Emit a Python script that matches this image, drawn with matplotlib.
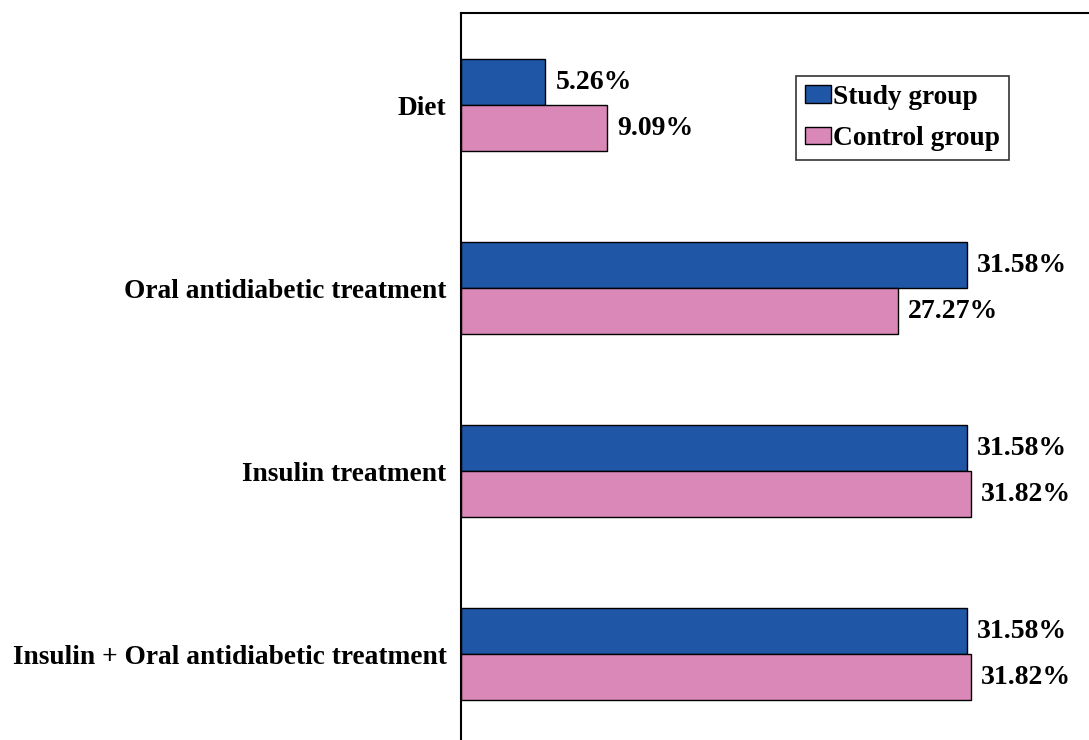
import matplotlib
matplotlib.use("Agg")
import matplotlib.pyplot as plt
import numpy as np

categories = ["Diet", "Oral antidiabetic treatment", "Insulin treatment",
              "Insulin + Oral antidiabetic treatment"]
study_group = [5.26, 31.58, 31.58, 31.58]
control_group = [9.09, 27.27, 31.82, 31.82]
series_names = ["Study group", "Control group"]

plt.rcParams["font.family"] = ["Liberation Serif", "DejaVu Serif"]
plt.rcParams["font.weight"] = "bold"

W, H = 1089, 740
fig = plt.figure(figsize=(W / 100, H / 100), dpi=100)
ax = fig.add_axes([461 / W, 0, 1 - 461 / W, 1 - 13 / H])

y = np.arange(len(categories))
h = 0.2514
blue = "#1F56A6"
pink = "#DA88B8"

b1 = ax.barh(y - h / 2, study_group, height=h, color=blue, edgecolor="black",
             linewidth=1.0, label=series_names[0])
b2 = ax.barh(y + h / 2, control_group, height=h, color=pink, edgecolor="black",
             linewidth=1.0, label=series_names[1])

for bars, vals in ((b1, study_group), (b2, control_group)):
    for rect, v in zip(bars, vals):
        ax.annotate(f"{v:.2f}%", xy=(v, rect.get_y() + rect.get_height() / 2),
                    xytext=(7.5, 0), textcoords="offset points",
                    ha="left", va="center", fontsize=20, fontweight="bold")

ax.set_xlim(0, (W - 461) / 16.02)
ax.set_ylim(3 + (740 - 654) / 183, -0.503)
ax.set_yticks(y)
ax.set_yticklabels(categories, fontsize=19.7, fontweight="bold")
ax.tick_params(axis="y", length=0, pad=10.5)
ax.set_xticks([])
for side in ("right", "bottom"):
    ax.spines[side].set_visible(False)
for side in ("left", "top"):
    ax.spines[side].set_linewidth(1.5)

leg = ax.legend(loc="upper left", bbox_to_anchor=(796 / W, 1 - 76 / H),
                bbox_transform=fig.transFigure, fontsize=19.7, frameon=True,
                fancybox=False, shadow=False, handlelength=0.95, handleheight=0.6,
                handletextpad=0.1, borderpad=0.32, labelspacing=0.6,
                borderaxespad=0)
leg.get_frame().set_edgecolor("black")
leg.get_frame().set_linewidth(1.2)

fig.savefig("out.png", dpi=100)
